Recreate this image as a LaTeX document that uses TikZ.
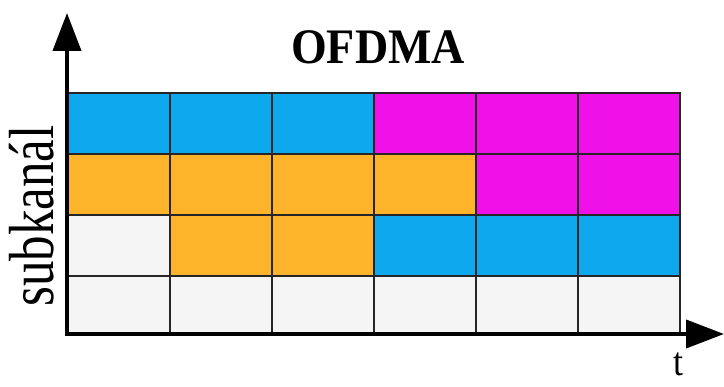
\documentclass[tikz,border=0pt]{standalone}
\usepackage{fontspec}
\setmainfont{Liberation Serif}
\usetikzlibrary{arrows.meta}
\definecolor{cblue}{RGB}{14,168,238}
\definecolor{cmag}{RGB}{240,16,232}
\definecolor{corange}{RGB}{253,179,42}
\definecolor{cgray}{RGB}{245,245,245}
\tikzset{
  cell/.style={draw=black!85, line width=1.8pt, inner sep=0pt, outer sep=0pt,
    minimum width=102pt, minimum height=#1},
  cell/.default=61pt,
  axis/.style={line width=4pt, -{Triangle[length=38pt,width=28pt]}},
  lbl/.style={font=\fontsize{51}{51}\selectfont, inner sep=0pt},
}
\begin{document}
\begin{tikzpicture}[x=1pt,y=-1pt]
\useasboundingbox (0,0) rectangle (724,387);
% rows: 93,154,215,276,334 ; columns start 68, step 102
\foreach \c [count=\i] in {cblue,cblue,cblue,cmag,cmag,cmag}{
  \node[cell=61pt, fill=\c] (r1c\i) at ({68+102*(\i-1)+51},123.5) {};
}
\foreach \c [count=\i] in {corange,corange,corange,corange,cmag,cmag}{
  \node[cell=61pt, fill=\c] (r2c\i) at ({68+102*(\i-1)+51},184.5) {};
}
\foreach \c [count=\i] in {cgray,corange,corange,cblue,cblue,cblue}{
  \node[cell=61pt, fill=\c] (r3c\i) at ({68+102*(\i-1)+51},245.5) {};
}
\foreach \c [count=\i] in {cgray,cgray,cgray,cgray,cgray,cgray}{
  \node[cell=58pt, fill=\c] (r4c\i) at ({68+102*(\i-1)+51},305) {};
}
\coordinate (o) at (67,334);
\coordinate (ytip) at (67,13);
\coordinate (xtip) at (724,334);
\draw[axis, line cap=rect] (o) -- (ytip);
\draw[axis, line cap=rect] (o) -- (xtip);
\node[font=\bfseries\fontsize{46}{46}\selectfont, inner sep=0pt] (title) at (378,47) {\scalebox{1}[1.08]{OFDMA}};
\node[lbl, rotate=90, anchor=base] (ylabel) at (53,216) {\scalebox{1}[1.25]{subkanál}};
\node[font=\fontsize{36}{36}\selectfont, inner sep=0pt, anchor=base] (xlabel) at (678,376) {\scalebox{1}[1.12]{t}};
\end{tikzpicture}
\end{document}
